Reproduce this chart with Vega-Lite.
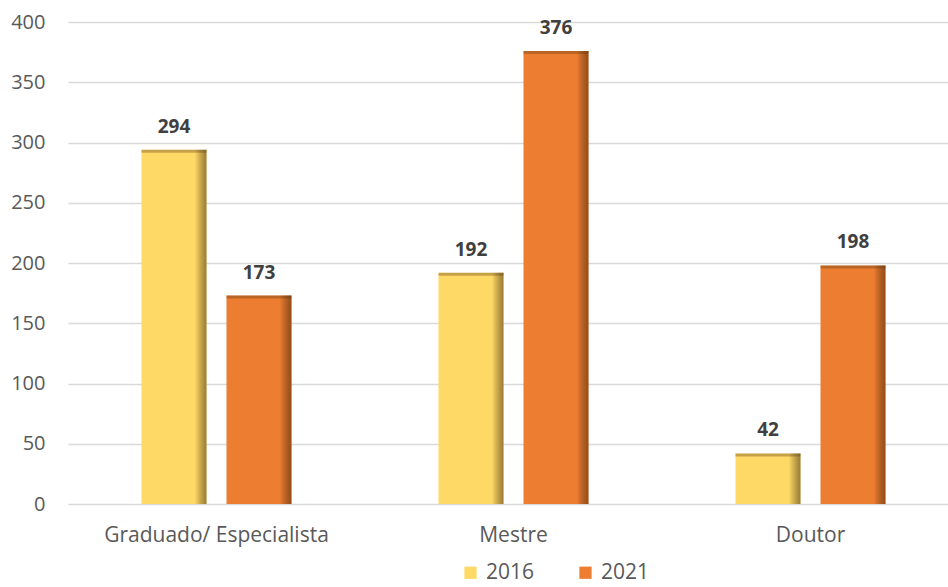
{
  "$schema": "https://vega.github.io/schema/vega-lite/v6.json",
  "autosize": "none",
  "width": 891,
  "height": 482,
  "padding": {"left": 68, "top": 22, "right": 0, "bottom": 83},
  "background": "white",
  "config": {
    "view": {"stroke": null},
    "font": "Open Sans"
  },
  "data": {
    "values": [
      {"nivel": "Graduado/ Especialista", "ano": "2016", "valor": 294},
      {"nivel": "Graduado/ Especialista", "ano": "2021", "valor": 173},
      {"nivel": "Mestre", "ano": "2016", "valor": 192},
      {"nivel": "Mestre", "ano": "2021", "valor": 376},
      {"nivel": "Doutor", "ano": "2016", "valor": 42},
      {"nivel": "Doutor", "ano": "2021", "valor": 198}
    ]
  },
  "encoding": {
    "x": {
      "field": "nivel", "type": "nominal", "sort": null,
      "scale": {"paddingInner": 0.495, "paddingOuter": 0.2475},
      "axis": {"title": null, "labelAngle": 0, "domain": false, "ticks": false, "labelPadding": 20, "labelLimit": 0, "labelFontSize": 21, "labelColor": "#595959", "labelFont": "Open Sans"}
    },
    "xOffset": {"field": "ano", "type": "nominal", "scale": {"paddingInner": 0.235, "paddingOuter": 0}},
    "y": {
      "field": "valor", "type": "quantitative",
      "scale": {"domain": [0, 400]},
      "axis": {"title": null, "values": [0,50,100,150,200,250,300,350,400], "labelOverlap": false, "domain": false, "ticks": false, "gridColor": "#d9d9d9", "gridWidth": 1.3, "labelPadding": 23, "labelFontSize": 20, "labelColor": "#595959", "labelFont": "Open Sans"}
    }
  },
  "layer": [
    {
      "mark": {"type": "bar"},
      "encoding": {
        "color": {
          "field": "ano", "type": "nominal",
          "scale": {"domain": ["2016", "2021"], "range": ["#FFD966", "#ED7D31"]},
          "legend": {
            "title": null, "orient": "none", "direction": "horizontal", "legendX": 392, "legendY": 540,
            "symbolType": "square", "symbolSize": 150, "labelFontSize": 21, "labelColor": "#595959",
            "labelFont": "Open Sans", "columnPadding": 40, "symbolStrokeWidth": 1.5, "labelOffset": 5
          }
        }
      }
    },
    {
      "mark": {
        "type": "bar",
        "fill": {
          "gradient": "linear", "x1": 0, "y1": 0, "x2": 1, "y2": 0,
          "stops": [
            {"offset": 0, "color": "rgba(0,0,0,0)"},
            {"offset": 0.82, "color": "rgba(0,0,0,0)"},
            {"offset": 1, "color": "rgba(60,30,0,0.5)"}
          ]
        }
      }
    },
    {
      "mark": {"type": "tick", "orient": "horizontal", "thickness": 3, "size": 65, "color": "#5a3a10", "opacity": 0.35, "yOffset": 1.5}
    },
    {
      "mark": {"type": "text", "dy": -23, "fontWeight": "bold", "fontSize": 19, "color": "#404040", "font": "Open Sans"},
      "encoding": {"text": {"field": "valor", "type": "quantitative"}}
    }
  ]
}
